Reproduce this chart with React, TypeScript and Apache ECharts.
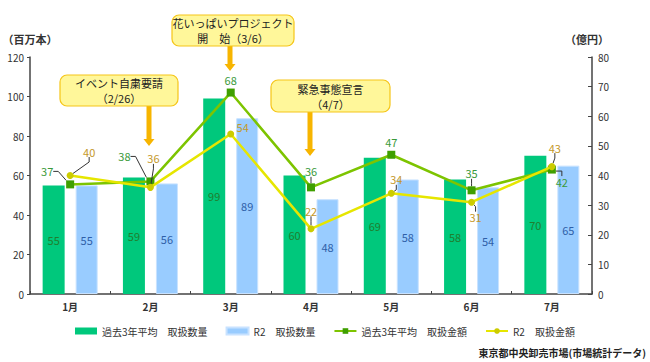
import React, { useEffect, useRef } from "react";
import * as echarts from "echarts";

const months = ["1月", "2月", "3月", "4月", "5月", "6月", "7月"];
const avgVolume = [55, 59, 99, 60, 69, 58, 70];
const r2Volume = [55, 56, 89, 48, 58, 54, 65];
const avgAmount = [37, 38, 68, 36, 47, 35, 42];
const r2Amount = [40, 36, 54, 22, 34, 31, 43];

const seriesNames = [
  "過去3年平均　取扱数量",
  "R2　取扱数量",
  "過去3年平均　取扱金額",
  "R2　取扱金額",
];

// label placement (style, not data)
const avgAmountLabelOffset = [[-23, -13], [-26, -25], [0, -13], [0, -16], [0, -13], [0, -17], [10, 12]];
const avgAmountLabelLine = [true, true, false, true, false, true, true];
const r2AmountLabelOffset = [[19, -24], [3, -29], [12, -7], [0, -18], [5, -14], [4, 15], [3, -19]];
const r2AmountLabelLine = [true, true, false, true, true, true, true];

const FONT = '"Noto Sans CJK JP", "Noto Sans", sans-serif';

function arrow(x: number, y0: number, y1: number) {
  return {
    type: "polygon",
    shape: {
      points: [
        [x - 2.5, y0], [x + 2.5, y0], [x + 2.5, y1 - 7], [x + 5.5, y1 - 7],
        [x, y1], [x - 5.5, y1 - 7], [x - 2.5, y1 - 7],
      ],
    },
    style: { fill: "#f7b500" },
    z: 10,
  };
}

function callout(x: number, y: number, w: number, h: number, line1: string, line2: string) {
  const t = (text: string, cy: number) => ({
    type: "text",
    x: x + w / 2,
    y: cy,
    style: {
      text,
      fill: "#222",
      font: `11px ${FONT}`,
      align: "center",
      verticalAlign: "middle",
    },
    z: 12,
  });
  return {
    type: "group",
    z: 11,
    children: [
      {
        type: "rect",
        shape: { x, y, width: w, height: h, r: 7 },
        style: { fill: "#fff79a", stroke: "#f5c518", lineWidth: 1.2 },
        z: 11,
      },
      t(line1, y + h / 2 - 7.5),
      t(line2, y + h / 2 + 7.5),
    ],
  };
}

export default function App() {
  const ref = useRef<HTMLDivElement>(null);
  useEffect(() => {
    if (!ref.current) return;
    const chart = echarts.init(ref.current, null, { renderer: "svg" });
    const option: any = {
      animation: false,
      textStyle: { fontFamily: FONT },
      grid: { left: 30, right: 58, top: 57, bottom: 68, containLabel: false },
      legend: {
        left: 70,
        top: 321,
        itemWidth: 22,
        itemHeight: 7,
        itemGap: 18,
        textStyle: { fontSize: 10, color: "#333", fontFamily: FONT },
        data: [
          { name: seriesNames[0], icon: "rect" },
          { name: seriesNames[1], icon: "rect" },
          { name: seriesNames[2] },
          { name: seriesNames[3] },
        ],
      },
      xAxis: {
        type: "category",
        data: months,
        boundaryGap: true,
        axisLine: { lineStyle: { color: "#444", width: 1.5 } },
        axisTick: { show: true, inside: true, length: 3, lineStyle: { color: "#444" } },
        axisLabel: { fontSize: 10, fontWeight: "bold", color: "#333", margin: 7 },
      },
      yAxis: [
        {
          type: "value",
          min: 0,
          max: 120,
          interval: 20,
          splitLine: { show: false },
          axisLine: { show: true, lineStyle: { color: "#444", width: 1.5 } },
          axisTick: { show: true, inside: false, length: 3, lineStyle: { color: "#444" } },
          axisLabel: { fontSize: 10, color: "#333", margin: 6 },
        },
        {
          type: "value",
          min: 0,
          max: 80,
          interval: 10,
          splitLine: { show: false },
          axisLine: { show: true, lineStyle: { color: "#444", width: 1.5 } },
          axisTick: { show: true, inside: true, length: 4, lineStyle: { color: "#444" } },
          axisLabel: { fontSize: 10, color: "#333", margin: 6 },
        },
      ],
      series: [
        {
          name: seriesNames[0],
          type: "bar",
          yAxisIndex: 0,
          data: avgVolume,
          barWidth: 22,
          barGap: "50%",
          itemStyle: { color: "#00c87c" },
          label: { show: true, position: "inside", color: "#1f7f2f", fontSize: 11 },
        },
        {
          name: seriesNames[1],
          type: "bar",
          yAxisIndex: 0,
          data: r2Volume,
          barWidth: 22,
          barGap: "50%",
          itemStyle: { color: "#99ccff", borderColor: "#c8e2ff", borderWidth: 1 },
          label: { show: true, position: "inside", color: "#2f5fa8", fontSize: 11 },
        },
        {
          name: seriesNames[2],
          type: "line",
          yAxisIndex: 1,
          z: 5,
          data: avgAmount.map((v, i) => ({ value: v, labelLine: { show: avgAmountLabelLine[i] } })),
          symbol: "rect",
          symbolSize: 8,
          lineStyle: { color: "#7dc400", width: 2.5 },
          itemStyle: { color: "#3f9f00" },
          label: { show: true, position: "inside", color: "#3a9a3a", fontSize: 11 },
          labelLine: { show: false, length2: 5, lineStyle: { color: "#333", width: 1 } },
          labelLayout: (p: any) => {
            const o = avgAmountLabelOffset[p.dataIndex];
            return { dx: o[0], dy: o[1] };
          },
        },
        {
          name: seriesNames[3],
          type: "line",
          yAxisIndex: 1,
          z: 6,
          data: r2Amount.map((v, i) => ({ value: v, labelLine: { show: r2AmountLabelLine[i] } })),
          symbol: "circle",
          symbolSize: 7,
          lineStyle: { color: "#e6e600", width: 2.5 },
          itemStyle: { color: "#cccc00" },
          label: { show: true, position: "inside", color: "#c4982a", fontSize: 11 },
          labelLine: { show: false, length2: 5, lineStyle: { color: "#333", width: 1 } },
          labelLayout: (p: any) => {
            const o = r2AmountLabelOffset[p.dataIndex];
            return { dx: o[0], dy: o[1] };
          },
        },
      ],
      graphic: [
        {
          type: "text",
          x: 30,
          y: 39,
          style: { text: "（百万本）", font: `bold 11px ${FONT}`, fill: "#333", align: "center", verticalAlign: "middle" },
        },
        {
          type: "text",
          x: 587,
          y: 39,
          style: { text: "（億円）", font: `bold 11px ${FONT}`, fill: "#333", align: "center", verticalAlign: "middle" },
        },
        {
          type: "text",
          x: 646,
          y: 352,
          style: { text: "東京都中央卸売市場(市場統計データ)", font: `bold 10px ${FONT}`, fill: "#222", align: "right", verticalAlign: "middle" },
        },
        arrow(149, 105, 146),
        arrow(230, 45, 71),
        arrow(310, 111, 156),
        callout(60, 75, 118, 31, "イベント自粛要請", "（2/26）"),
        callout(172, 15, 122, 31, "花いっぱいプロジェクト", "開　始（3/6）"),
        callout(271, 80, 119, 32, "緊急事態宣言", "（4/7）"),
      ],
    };
    chart.setOption(option);
    return () => chart.dispose();
  }, []);
  return (
    <div
      ref={ref}
      style={{ position: "absolute", left: 0, top: 0, width: 650, height: 362, background: "#fff" }}
    />
  );
}
